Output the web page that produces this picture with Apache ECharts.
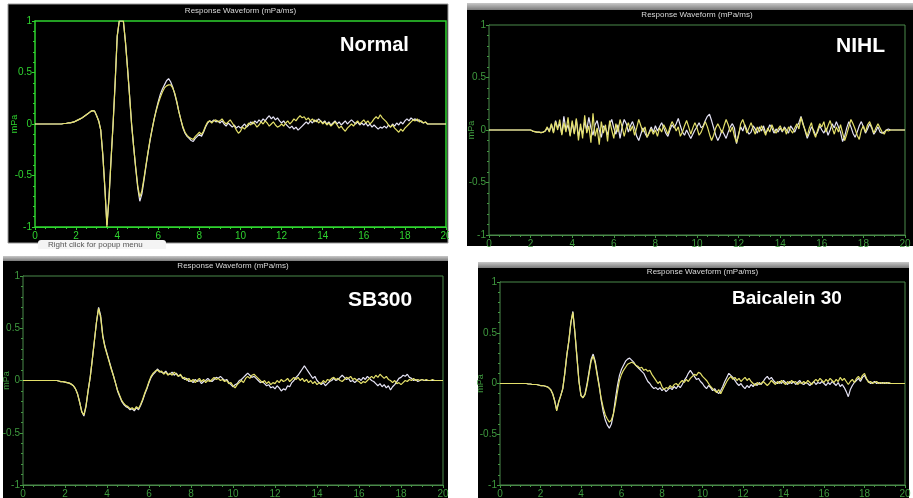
<!DOCTYPE html>
<html><head><meta charset="utf-8">
<script src="https://cdn.jsdelivr.net/npm/echarts@6/dist/echarts.min.js"></script>
<style>html,body{margin:0;padding:0;background:#fff;}#c{width:913px;height:498px;}</style>
</head><body><div id="c"></div>
<script>
// time axis: samples every 0.1 ms from 0 to 20 ms
const TIME_STEP_MS = 0.1;
const xTicks = [0,2,4,6,8,10,12,14,16,18,20];
const yTicks = [-1,-0.5,0,0.5,1];
const panelLabels = ['Normal','NIHL','SB300','Baicalein 30'];
const chartTitle = 'Response Waveform (mPa/ms)';

// ---- Normal ----
const normalYellow = [
0,0,0,0,0,0,0,0,0,0,
0,0,0,0,0.005,0.005,0.01,0.01,0.015,0.02,
0.03,0.04,0.05,0.06,0.075,0.09,0.105,0.12,0.13,0.125,
0.08,0.03,-0.06,-0.3,-0.62,-1.0,-0.72,-0.35,0.0,0.4,
0.85,1.0,1.0,1.0,0.8,0.55,0.28,0.0,-0.22,-0.42,
-0.6,-0.71,-0.65,-0.53,-0.4,-0.27,-0.15,-0.05,0.05,0.13,
0.2,0.26,0.31,0.35,0.37,0.38,0.38,0.35,0.3,0.22,
0.12,0.04,-0.03,-0.08,-0.11,-0.13,-0.14,-0.15,-0.12,-0.1,
-0.08,-0.1,-0.07,-0.02,0.02,0.03,0.01,0.03,0.04,0.02,
0.03,0.05,0.02,0.0,0.02,0.04,0.01,-0.02,-0.06,-0.09,
-0.07,-0.03,-0.05,-0.02,0.01,-0.01,0.02,0.0,-0.03,-0.01,
0.02,0.0,0.03,0.01,-0.02,0.0,0.02,-0.01,-0.03,-0.02,
0.0,-0.02,0.01,0.03,0.0,0.02,0.05,0.03,0.06,0.08,
0.06,0.07,0.04,0.06,0.03,0.05,0.02,0.04,0.01,0.03,
0.0,0.02,-0.01,0.01,-0.02,0.0,0.02,-0.01,-0.04,-0.02,
-0.05,-0.07,-0.04,-0.02,0.0,-0.02,0.01,0.03,0.0,0.02,
0.04,0.01,0.03,0.0,0.02,0.05,0.07,0.05,0.09,0.06,
0.04,0.02,-0.01,-0.03,-0.01,-0.04,-0.06,-0.08,-0.05,-0.07,
-0.04,-0.02,0.0,0.02,0.04,0.03,0.05,0.02,0.03,0.01,
0.02,0.0,0.0,0,0,0,0,0,0,0,
0];
const normalWhite = [
0,0,0,0,0,0,0,0,0,0,
0,0,0,0,0.005,0.005,0.01,0.01,0.015,0.02,
0.03,0.04,0.05,0.06,0.075,0.09,0.105,0.12,0.13,0.125,
0.08,0.03,-0.06,-0.3,-0.62,-0.98,-0.72,-0.35,0.0,0.4,
0.85,1.0,1.0,1.0,0.8,0.55,0.28,0.0,-0.22,-0.43,
-0.62,-0.75,-0.68,-0.55,-0.41,-0.28,-0.16,-0.05,0.05,0.14,
0.22,0.29,0.34,0.38,0.42,0.44,0.41,0.36,0.29,0.21,
0.12,0.04,-0.04,-0.09,-0.12,-0.14,-0.16,-0.17,-0.14,-0.12,
-0.1,-0.12,-0.08,-0.03,0.01,0.03,0.02,0.04,0.02,0.03,
0.01,0.03,0.0,-0.02,0.01,-0.01,-0.03,-0.01,-0.04,-0.02,
-0.04,-0.02,0.0,-0.03,-0.01,0.02,0.0,0.03,0.01,0.04,
0.02,0.05,0.03,0.06,0.08,0.05,0.07,0.04,0.06,0.03,
0.01,0.03,0.0,-0.02,-0.04,-0.02,-0.05,-0.03,-0.06,-0.04,
-0.02,0.0,0.02,0.0,0.03,0.01,0.04,0.02,0.05,0.03,
0.01,0.03,0.0,0.02,-0.01,0.01,0.03,0.0,0.02,-0.01,
0.01,0.03,0.0,0.02,0.04,0.02,0.0,0.02,-0.01,0.01,
-0.01,0.01,-0.02,0.0,-0.03,-0.01,-0.03,-0.05,-0.03,-0.04,
-0.02,-0.04,-0.01,-0.03,0.0,-0.02,0.01,-0.01,0.02,0.0,
0.03,0.05,0.03,0.06,0.04,0.05,0.03,0.04,0.02,0.01,
0.02,0.0,0,0,0,0,0,0,0,0,
0];

// ---- NIHL ----
const nihlYellow = [
0,0,0,0,0,0,0,0,0,0,
0,0,0,0,0,0,0,0,0,0,
0,-0.01,-0.015,-0.02,-0.02,-0.025,-0.02,-0.01,0.03,-0.02,
0.06,-0.03,0.08,0.0,0.1,-0.05,0.07,-0.02,0.12,-0.06,
0.09,-0.04,0.11,-0.1,0.06,-0.08,0.14,-0.03,0.04,-0.12,
0.16,-0.06,0.02,-0.14,0.08,-0.03,0.05,-0.11,0.09,0.0,
-0.08,0.06,-0.02,0.1,0.03,-0.06,0.02,0.07,-0.01,0.04,
-0.05,0.02,0.1,0.04,-0.02,0.03,-0.07,-0.03,0.01,-0.04,
0.0,-0.06,0.02,-0.02,0.05,0.01,-0.04,0.03,0.08,0.04,
-0.01,0.03,-0.06,-0.02,0.04,0.09,0.03,-0.04,0.02,0.07,
0.02,-0.05,-0.02,0.03,0.08,0.03,-0.04,-0.1,-0.05,0.02,
0.06,0.02,-0.03,0.04,0.1,0.05,-0.02,0.03,-0.06,-0.12,
-0.05,0.06,0.1,0.04,-0.03,0.02,0.07,0.01,-0.04,0.03,
-0.02,0.04,0.0,-0.05,0.02,-0.02,0.05,0.0,-0.03,0.01,
0.04,-0.01,0.02,-0.04,0.03,0.0,-0.03,0.02,0.06,0.01,
0.12,0.05,0.0,-0.06,0.02,0.07,-0.02,-0.07,0.0,0.06,
0.03,0.08,-0.02,0.04,0.09,0.02,-0.04,0.03,-0.02,0.05,
-0.03,-0.1,-0.04,0.03,0.1,0.06,0.01,-0.05,-0.09,0.0,
0.04,-0.02,0.05,0.08,0.03,-0.03,0.02,0.06,0.02,-0.02,
-0.04,0.0,-0.01,0.0,0,0,0,0,0,0,
0];
const nihlWhite = [
0,0,0,0,0,0,0,0,0,0,
0,0,0,0,0,0,0,0,0,0,
0,-0.01,-0.015,-0.02,-0.02,-0.025,-0.02,-0.01,0.02,-0.01,
0.05,-0.02,0.09,0.02,0.06,-0.04,0.13,0.0,0.05,-0.05,
0.07,-0.03,0.1,-0.06,0.03,-0.04,0.08,0.0,0.12,0.02,
-0.05,0.05,0.09,0.0,-0.07,0.04,0.02,-0.05,0.06,0.1,
0.02,-0.04,0.05,-0.08,0.03,0.1,0.06,-0.02,0.04,0.08,
0.02,-0.06,-0.1,-0.04,0.02,-0.03,-0.07,-0.02,0.03,-0.02,
0.04,-0.01,0.03,0.07,0.02,-0.03,-0.06,0.0,0.05,0.02,
0.06,0.11,0.04,-0.02,-0.05,0.0,-0.04,-0.08,-0.04,0.0,
0.03,0.07,0.02,0.04,0.09,0.13,0.15,0.09,0.02,-0.05,
-0.1,-0.06,0.0,-0.04,-0.08,-0.02,0.03,0.06,0.02,-0.13,
-0.04,0.03,-0.01,0.05,0.0,-0.04,-0.02,0.04,0.01,-0.03,
0.03,-0.01,0.04,-0.03,0.0,0.05,0.02,-0.03,0.01,-0.02,
0.02,-0.02,0.03,0.0,-0.03,0.04,0.01,-0.02,0.03,0.07,
0.13,0.06,-0.01,-0.08,-0.03,0.03,0.0,-0.05,-0.02,0.04,
0.0,-0.03,0.02,-0.05,0.0,0.06,0.02,0.08,0.03,-0.02,
-0.11,-0.06,0.02,0.08,0.03,-0.03,-0.07,-0.02,0.04,0.08,
0.03,-0.03,0.01,0.06,0.02,-0.04,-0.01,0.03,-0.02,-0.03,
-0.02,0.0,0.01,0,0,0,0,0,0,0,
0];

// ---- SB300 ----
const sbYellow = [
0,0,0,0,0,0,0,0,0,0,
0,0,0,0,0,0,0,-0.005,-0.01,-0.01,
-0.015,-0.02,-0.025,-0.035,-0.05,-0.08,-0.13,-0.21,-0.3,-0.33,
-0.24,-0.1,0.03,0.2,0.38,0.56,0.69,0.6,0.42,0.32,
0.25,0.18,0.11,0.05,-0.02,-0.09,-0.14,-0.19,-0.22,-0.24,
-0.25,-0.27,-0.26,-0.28,-0.25,-0.27,-0.23,-0.18,-0.12,-0.07,
-0.01,0.04,0.07,0.09,0.1,0.08,0.09,0.06,0.08,0.05,
0.07,0.05,0.08,0.06,0.04,0.06,0.02,0.03,0.0,0.02,
-0.01,0.01,-0.02,0.0,0.02,-0.01,0.01,-0.02,0.0,-0.01,
0.01,0.03,0.01,0.02,0.0,0.01,-0.01,0.0,-0.03,-0.02,
-0.05,-0.07,-0.04,-0.02,0.0,-0.02,0.02,0.04,0.02,0.05,
0.06,0.04,0.02,0.0,-0.02,0.0,-0.03,-0.01,-0.04,-0.02,
-0.03,0.0,-0.02,0.01,-0.01,0.0,0.02,-0.01,0.01,0.03,
0.01,0.03,0.0,0.02,-0.01,0.01,-0.02,0.0,-0.03,-0.01,
-0.04,-0.02,-0.03,0.0,-0.02,0.01,0.0,0.02,0.03,0.01,
0.02,0.0,-0.01,0.01,0.03,0.02,0.04,0.01,0.02,0.0,
-0.01,-0.03,-0.01,-0.02,0.0,0.02,0.04,0.02,0.05,0.03,
0.06,0.04,0.02,0.04,0.01,0.0,-0.02,0.0,-0.03,-0.02,
-0.04,-0.02,0.0,-0.01,0.01,0.0,0.02,0.0,0.01,0.0,
0.01,0.0,0.01,0.0,0.0,0.01,0,0,0,0,
0];
const sbWhite = [
0,0,0,0,0,0,0,0,0,0,
0,0,0,0,0,0,0,-0.005,-0.01,-0.01,
-0.015,-0.02,-0.025,-0.035,-0.05,-0.08,-0.13,-0.21,-0.3,-0.34,
-0.25,-0.1,0.03,0.2,0.38,0.56,0.7,0.62,0.43,0.33,
0.26,0.19,0.12,0.05,-0.02,-0.1,-0.15,-0.2,-0.23,-0.25,
-0.26,-0.28,-0.27,-0.29,-0.26,-0.28,-0.24,-0.19,-0.13,-0.08,
-0.02,0.03,0.06,0.08,0.11,0.09,0.08,0.07,0.09,0.06,
0.06,0.08,0.05,0.07,0.04,0.05,0.03,0.01,0.02,-0.01,
0.0,-0.02,0.01,-0.01,0.0,-0.03,-0.01,0.0,0.02,0.0,
-0.01,0.01,0.03,0.02,0.04,0.02,0.0,0.01,-0.02,-0.04,
-0.06,-0.04,-0.03,0.0,0.01,0.03,0.05,0.07,0.05,0.03,
0.04,0.02,0.0,-0.02,-0.01,-0.03,-0.05,-0.04,-0.07,-0.06,
-0.08,-0.05,-0.07,-0.1,-0.08,-0.09,-0.05,-0.06,-0.02,0.0,
0.03,0.05,0.08,0.11,0.14,0.11,0.08,0.05,0.02,0.04,
0.0,-0.02,-0.04,-0.02,-0.05,-0.03,-0.01,0.0,0.02,0.0,
0.01,0.03,0.05,0.03,0.01,0.02,-0.01,0.0,-0.02,0.0,
0.02,0.0,0.03,0.01,0.04,0.02,0.0,-0.01,-0.03,-0.05,
-0.03,-0.06,-0.04,-0.07,-0.05,-0.09,-0.06,-0.04,-0.01,0.02,
0.03,0.05,0.04,0.06,0.03,0.02,0.0,0.01,-0.01,0.0,
0.01,0,0,0,0,0,0,0,0,0,
0];

// ---- Baicalein 30 ----
const baiYellow = [
0,0,0,0,0,0,0,0,0,0,
0,0,0,0,-0.005,-0.005,-0.01,-0.01,-0.01,-0.015,
-0.02,-0.02,-0.025,-0.03,-0.04,-0.06,-0.1,-0.17,-0.27,-0.18,
-0.12,-0.05,0.1,0.28,0.42,0.6,0.7,0.5,0.26,0.02,
-0.12,-0.14,-0.11,-0.02,0.1,0.22,0.27,0.2,0.08,-0.03,
-0.15,-0.24,-0.31,-0.35,-0.38,-0.36,-0.3,-0.2,-0.08,0.03,
0.09,0.13,0.16,0.19,0.2,0.21,0.2,0.18,0.17,0.15,
0.16,0.13,0.14,0.12,0.13,0.09,0.06,0.03,0.0,0.02,
-0.03,-0.06,-0.04,-0.05,-0.02,-0.04,-0.01,0.0,-0.02,0.01,
0.03,0.01,0.04,0.02,0.05,0.07,0.09,0.08,0.11,0.1,
0.07,0.05,0.03,0.0,-0.03,-0.05,-0.07,-0.09,-0.06,-0.1,
-0.06,-0.02,0.02,0.05,0.07,0.04,0.06,0.03,0.05,0.02,
0.04,0.06,0.03,0.05,0.02,0.0,-0.02,0.01,-0.01,0.0,
0.02,0.0,-0.02,0.0,0.03,0.01,-0.01,0.02,0.0,0.03,
0.01,-0.01,0.02,0.0,0.03,0.01,0.02,-0.01,0.01,0.0,
0.02,0.0,0.03,0.01,-0.01,0.02,0.04,0.02,0.05,0.03,
0.01,0.04,0.02,0.05,0.03,0.01,0.04,0.02,0.06,0.03,
0.05,0.02,-0.01,0.02,0.04,0.01,0.05,0.07,0.04,0.08,
0.1,0.05,0.01,0.02,0.0,0.01,0.02,0.0,0.01,0.0,
0.01,0.0,0.01,0,0,0,0,0,0,0,
0];
const baiWhite = [
0,0,0,0,0,0,0,0,0,0,
0,0,0,0,-0.005,-0.005,-0.01,-0.01,-0.01,-0.015,
-0.02,-0.02,-0.025,-0.03,-0.04,-0.06,-0.1,-0.17,-0.26,-0.18,
-0.12,-0.05,0.1,0.28,0.42,0.6,0.71,0.5,0.26,0.02,
-0.12,-0.14,-0.1,0.0,0.12,0.24,0.29,0.22,0.1,-0.02,
-0.17,-0.28,-0.36,-0.41,-0.44,-0.4,-0.3,-0.15,-0.02,0.08,
0.14,0.18,0.22,0.24,0.25,0.23,0.21,0.18,0.16,0.14,
0.12,0.1,0.06,0.02,0.0,-0.03,-0.05,-0.04,-0.06,-0.04,
-0.07,-0.05,-0.08,-0.06,-0.04,-0.06,-0.03,-0.05,-0.02,-0.04,
-0.01,0.03,0.06,0.1,0.13,0.1,0.07,0.04,0.05,0.02,
0.0,-0.03,-0.05,-0.02,-0.04,-0.07,-0.05,-0.08,-0.1,-0.07,
-0.03,0.02,0.06,0.1,0.08,0.06,0.03,0.0,-0.02,0.0,
-0.03,-0.05,-0.02,-0.04,-0.01,-0.03,0.0,-0.02,0.01,-0.01,
0.02,0.05,0.07,0.04,0.06,0.03,0.01,0.0,0.02,0.0,
0.03,0.01,-0.01,0.02,0.0,0.02,-0.01,0.01,0.03,0.0,
-0.01,0.01,0.0,-0.02,0.0,0.02,-0.01,0.01,0.0,0.02,
0.0,-0.02,0.01,-0.01,0.02,0.0,-0.02,0.01,-0.03,-0.01,
-0.04,-0.08,-0.13,-0.06,-0.02,0.01,0.03,0.05,0.02,0.06,
0.08,0.04,0.02,0.0,0.01,0.02,0.0,0.01,0.0,0.01,
0.0,0.01,0,0,0,0,0,0,0,0,
0];

const panelsData = [
  [normalWhite, normalYellow],
  [nihlWhite, nihlYellow],
  [sbWhite, sbYellow],
  [baiWhite, baiYellow]
];

// ---- layout (styling only) ----
const grids = [
  {left:35, top:21, width:411, height:206},
  {left:489, top:25, width:416, height:210},
  {left:23, top:276, width:420, height:209},
  {left:500, top:282, width:405, height:203}
];
const frames = [
  {x:8, y:4, w:440, h:239, bar:0},
  {x:467, y:3, w:446, h:243, bar:7},
  {x:3, y:256, w:445, h:242, bar:5},
  {x:478, y:262, w:431, h:236, bar:6}
];
const nameGaps = [16, 13, 12, 15];
const labelPos = [[340,45],[836,46],[348,300],[732,299]];
const labelSize = [20,21,21,19];
const titleY = [11, 15, 266, 272];
const bright = '#2fd42f', dim = '#3f9a3f';

function pairs(vals){ return vals.map((v,i)=>[+(i*TIME_STEP_MS).toFixed(1), v]); }

const chart = echarts.init(document.getElementById('c'), null, {renderer:'canvas'});
const option = {
  backgroundColor:'#ffffff',
  animation:false,
  grid: grids.map((g,i)=>({left:g.left, top:g.top, width:g.width, height:g.height, show:true,
    outerBoundsMode:'none', containLabel:false,
    backgroundColor:'#000', borderColor: i===0?bright:'#4a8a4a', borderWidth: i===0?1.5:1, z:1})),
  xAxis: grids.map((g,i)=>({type:'value', gridIndex:i, min:0, max:20, interval:2,
    axisLine:{show:true, onZero:false, lineStyle:{color:i===0?bright:'#4a8a4a'}},
    axisTick:{show:true, length:3, lineStyle:{color:i===0?bright:dim}},
    minorTick:{show:true, splitNumber:4, length:2, lineStyle:{color:i===0?bright:dim}},
    splitLine:{show:false},
    axisLabel:{color:i===0?bright:dim, fontSize:10, margin:4, fontFamily:'Liberation Sans',
      formatter:(v)=> xTicks.includes(v)? String(v):''}
  })),
  yAxis: grids.map((g,i)=>({type:'value', gridIndex:i, min:-1, max:1, interval:0.5,
    name:'mPa', nameLocation:'middle', nameGap:nameGaps[i], nameRotate:90, nameMoveOverlap:false,
    nameTextStyle:{color:i===0?bright:dim, fontSize:9, fontFamily:'Liberation Sans'},
    axisLine:{show:true, lineStyle:{color:i===0?bright:'#4a8a4a'}},
    axisTick:{show:true, length:3, lineStyle:{color:i===0?bright:dim}},
    minorTick:{show:true, splitNumber:5, length:2, lineStyle:{color:i===0?bright:dim}},
    splitLine:{show:false},
    axisLabel:{color:i===0?bright:dim, fontSize:10, margin:3, fontFamily:'Liberation Sans',
      formatter:(v)=> yTicks.includes(v)? String(v):''}
  })),
  series: [],
  graphic: []
};

panelsData.forEach((pd,i)=>{
  option.series.push({type:'line', xAxisIndex:i, yAxisIndex:i, data:pairs(pd[0]), showSymbol:false,
    lineStyle:{color:'#e6e4f6', width:1.2}, z:3});
  option.series.push({type:'line', xAxisIndex:i, yAxisIndex:i, data:pairs(pd[1]), showSymbol:false,
    lineStyle:{color:'#e4e06a', width:1.2}, z:4});
});

frames.forEach((f,i)=>{
  if (f.bar>0) {
    option.graphic.push({type:'rect', z:-10, shape:{x:f.x, y:f.y, width:f.w, height:f.bar},
      style:{fill:new echarts.graphic.LinearGradient(0,0,0,1,[{offset:0,color:'#c8c8c8'},{offset:1,color:'#7a7a7a'}])}, silent:true});
    option.graphic.push({type:'rect', z:-10, shape:{x:f.x, y:f.y+f.bar, width:f.w, height:f.h-f.bar},
      style:{fill:'#000'}, silent:true});
  } else {
    option.graphic.push({type:'rect', z:-10, shape:{x:f.x, y:f.y, width:f.w, height:f.h},
      style:{fill:'#000', stroke:'#9a9a9a', lineWidth:1}, silent:true});
  }
  const g = grids[i];
  option.graphic.push({type:'text', z:10, x:g.left + g.width/2, y:titleY[i],
    style:{text:chartTitle, fill:'#d8d8d8', font:'8px "Liberation Sans"', textAlign:'center', textVerticalAlign:'middle'}, silent:true});
  option.graphic.push({type:'text', z:10, x:labelPos[i][0], y:labelPos[i][1],
    style:{text:panelLabels[i], fill:'#ffffff', font:'bold '+labelSize[i]+'px "Liberation Sans"', textAlign:'left', textVerticalAlign:'middle'}, silent:true});
});
// white gap right of the first panel (the screenshot crops its last tick label)
option.graphic.push({type:'rect', z:50, shape:{x:449, y:0, width:17, height:250}, style:{fill:'#ffffff'}, silent:true});
// popup-menu tab under the first panel
option.graphic.push({type:'rect', z:11, shape:{x:38, y:240, width:128, height:9, r:[3,3,0,0]}, style:{fill:'#f4f4f4'}, silent:true});
option.graphic.push({type:'text', z:12, x:48, y:245, style:{text:'Right click for popup menu', fill:'#555', font:'8px "Liberation Sans"', textVerticalAlign:'middle'}, silent:true});

chart.setOption(option);
</script></body></html>
